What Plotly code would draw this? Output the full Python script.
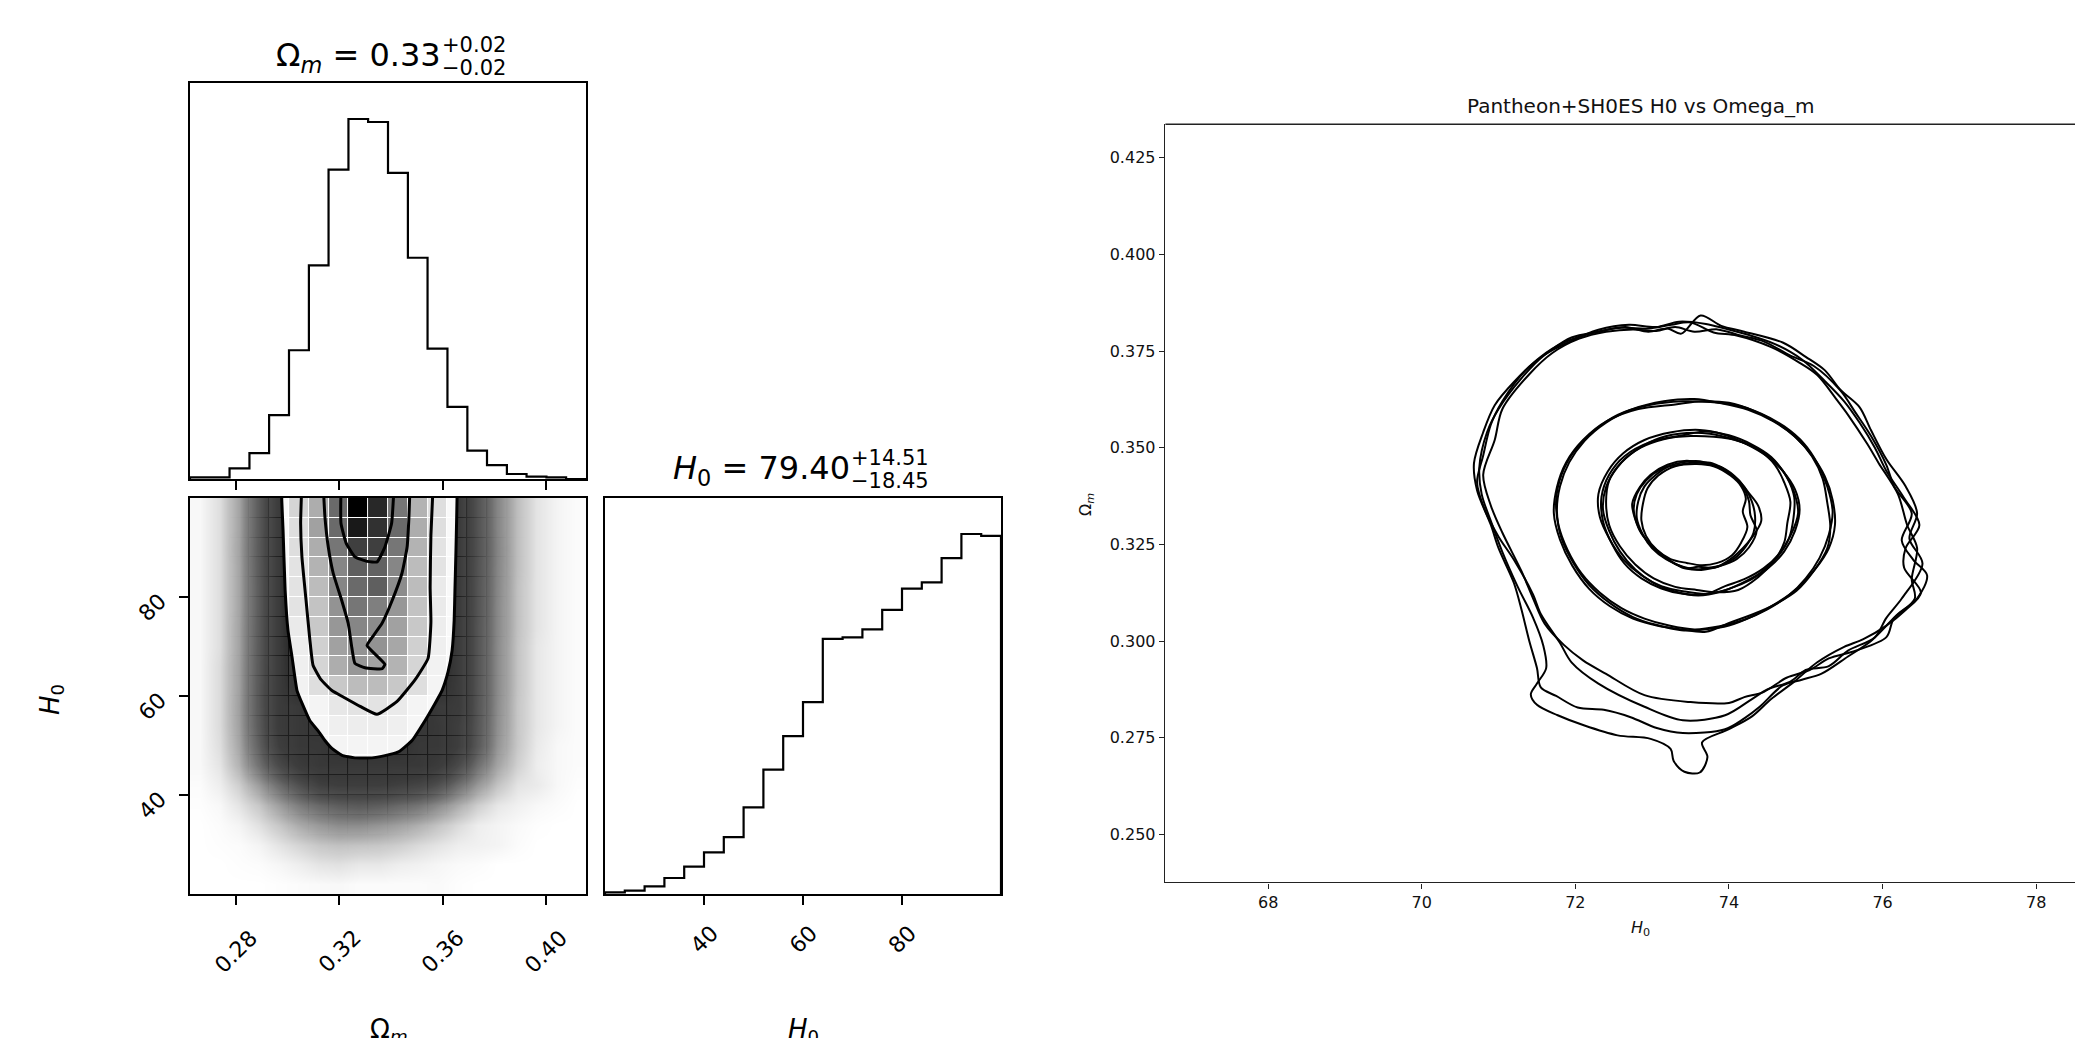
import math
import plotly.graph_objects as go

# ---------------- corner plot data ----------------
omega_bin_edges = [0.2623, 0.2700, 0.2776, 0.2853, 0.2929, 0.3006, 0.3083, 0.3159,
                   0.3236, 0.3312, 0.3389, 0.3466, 0.3542, 0.3619, 0.3696, 0.3772,
                   0.3849, 0.3925, 0.4002, 0.4078, 0.4155]
omega_counts = [5, 5, 32, 78, 192, 387, 642, 930, 1082, 1073,
                920, 665, 392, 217, 85, 42, 15, 7, 5, 0]
h0_bin_edges = [20, 24, 28, 32, 36, 40, 44, 48, 52, 56, 60,
                64, 68, 72, 76, 80, 84, 88, 92, 96, 100]
h0_counts = [4, 9, 20, 42, 72, 109, 149, 227, 326, 414,
             503, 669, 673, 694, 745, 801, 817, 881, 944, 939]

# 2D density (relative counts), rows from H0 = 96-100 (top) down to 20-24 (bottom)
density_rows_top_down = [
    [0.2, 1.0, 3.2, 8.5, 15, 39, 55, 74, 97, 89, 71, 53, 35, 15, 9.5, 4.8, 2.1, 0.8, 0.3, 0.1],
    [0.2, 1.0, 3.2, 8.5, 15, 35, 59, 74, 92, 87, 74, 55, 35, 15, 9.5, 4.8, 2.1, 0.8, 0.3, 0.1],
    [0.2, 1.0, 3.3, 8.6, 15, 35, 55, 71, 84, 84, 71, 53, 32, 15, 9.6, 4.9, 2.1, 0.8, 0.3, 0.1],
    [0.2, 1.0, 3.2, 8.5, 15, 32, 53, 67, 77, 76, 67, 50, 32, 15, 9.5, 4.8, 2.1, 0.8, 0.3, 0.1],
    [0.2, 1.0, 3.2, 8.4, 15, 32, 50, 67, 74, 77, 65, 50, 28, 15, 9.4, 4.7, 2.0, 0.8, 0.3, 0.1],
    [0.2, 1.0, 3.2, 8.4, 15, 32, 47, 63, 71, 69, 62, 47, 28, 15, 9.4, 4.6, 2.0, 0.8, 0.3, 0.1],
    [0.2, 1.0, 3.3, 8.5, 15, 28, 45, 62, 67, 65, 59, 45, 26, 15, 9.2, 4.6, 2.0, 0.8, 0.3, 0.1],
    [0.2, 1.0, 3.3, 8.6, 15, 26, 42, 59, 63, 63, 57, 42, 24, 15, 9.2, 4.5, 1.9, 0.7, 0.3, 0.1],
    [0.2, 1.1, 3.4, 8.7, 15, 24, 39, 55, 62, 59, 53, 39, 22, 15, 9.2, 4.5, 1.9, 0.7, 0.3, 0.1],
    [0.2, 1.1, 3.4, 8.8, 15, 22, 35, 45, 50, 50, 45, 35, 20, 15, 9.2, 4.5, 1.9, 0.7, 0.3, 0.1],
    [0.2, 1.1, 3.5, 8.8, 15, 17, 20, 30, 32, 32, 28, 20, 16, 15, 9.1, 4.4, 1.8, 0.7, 0.3, 0.1],
    [0.2, 1.1, 3.4, 8.6, 15, 17, 18, 24, 26, 26, 24, 18, 17, 14, 8.9, 4.3, 1.8, 0.7, 0.3, 0.1],
    [0.2, 1.0, 3.1, 7.8, 14, 17, 17, 20, 20, 20, 20, 17, 17, 14, 8.6, 4.0, 1.7, 0.6, 0.2, 0.1],
    [0.2, 0.8, 2.6, 6.3, 11, 15, 17, 17, 17, 17, 17, 17, 15, 11, 6.4, 3.2, 1.4, 0.5, 0.2, 0.1],
    [0.1, 0.5, 1.5, 3.6, 6.6, 9.8, 13, 14, 14, 14, 13, 12, 9.8, 6.5, 3.8, 1.9, 0.8, 0.6, 0.2, 0.05],
    [0.05, 0.2, 0.8, 1.8, 3.5, 5.4, 7.0, 8.0, 8.5, 8.0, 7.0, 6.0, 4.5, 2.9, 1.5, 0.7, 0.4, 0.2, 0.1, 0.0],
    [0.0, 0.1, 0.3, 0.9, 1.8, 2.9, 3.8, 4.4, 4.4, 4.0, 3.4, 2.7, 1.9, 1.1, 0.5, 0.3, 0.15, 0.05, 0.0, 0.0],
    [0.0, 0.05, 0.1, 0.3, 0.8, 1.3, 1.8, 2.0, 1.9, 1.8, 1.5, 1.1, 0.8, 0.5, 0.4, 0.3, 0.1, 0.0, 0.0, 0.0],
    [0.0, 0.0, 0.05, 0.1, 0.25, 0.5, 0.8, 0.9, 0.7, 0.7, 0.5, 0.4, 0.25, 0.15, 0.1, 0.0, 0.0, 0.0, 0.0, 0.0],
    [0.0, 0.0, 0.0, 0.0, 0.05, 0.1, 0.15, 0.2, 0.1, 0.1, 0.1, 0.1, 0.15, 0.05, 0.0, 0.0, 0.0, 0.0, 0.0, 0.0],
]

# contour lines (Omega_m, H0)
contour_865_omega = [0.2978, 0.2978, 0.2983, 0.2991, 0.3002, 0.3018, 0.3037, 0.3060, 0.3087, 0.3118,
                     0.3145, 0.3172, 0.3211, 0.3261, 0.3327, 0.3397, 0.3432, 0.3482, 0.3532, 0.3571,
                     0.3598, 0.3621, 0.3637, 0.3645, 0.3648, 0.3652, 0.3656, 0.3656]
contour_865_h0 = [102, 99.6, 93.5, 81.4, 73.3, 67.8, 61.1, 58.1, 55.0, 53.0,
                  51.0, 49.4, 48.0, 47.5, 47.5, 48.2, 48.8, 51.0, 55.0, 58.5,
                  61.1, 64.8, 69.2, 75.3, 81.4, 89.5, 99.6, 102]
contour_675_omega = [0.3055, 0.3051, 0.3056, 0.3072, 0.3087, 0.3099, 0.3130, 0.3172, 0.3219,
                     0.3281, 0.3346, 0.3424, 0.3494, 0.3544, 0.3555, 0.3552, 0.3555, 0.3563]
contour_675_h0 = [102, 94.9, 88.1, 79.3, 71.2, 66.2, 63.3, 61.1, 59.7,
                  57.9, 56.3, 58.9, 63.3, 67.6, 74.9, 82.0, 92.5, 102]
contour_393_omega = [0.3139, 0.3145, 0.3158, 0.3177, 0.3210, 0.3235, 0.3249, 0.3261, 0.3300, 0.3366,
                     0.3377, 0.3308, 0.3327, 0.3366, 0.3405, 0.3443, 0.3463, 0.3470, 0.3474]
contour_393_h0 = [102, 96.2, 90.1, 84.8, 79.3, 74.7, 69.8, 66.6, 65.7, 65.5,
                  66.4, 70.2, 71.8, 74.7, 79.3, 84.8, 90.1, 96.2, 102]
contour_118_omega = [0.3207, 0.3207, 0.3227, 0.3261, 0.3308, 0.3347, 0.3377, 0.3403, 0.3412]
contour_118_h0 = [102, 94.9, 90.9, 88.1, 87.2, 87.1, 90.1, 94.9, 102]

omega_ticks = [0.28, 0.32, 0.36, 0.40]
omega_tick_labels = ["0.28", "0.32", "0.36", "0.40"]
h0_ticks = [40, 60, 80]
h0_tick_labels = ["40", "60", "80"]

omega_title_main = "Ω<sub><i>m</i></sub> = 0.33"
omega_title_up, omega_title_down = "+0.02", "−0.02"
h0_title_main = "<i>H</i><sub>0</sub> = 79.40"
h0_title_up, h0_title_down = "+14.51", "−18.45"

# ---------------- Pantheon+SH0ES panel data: closed contour loops (H0, Omega_m) ----------------
ring1_loops = [
    [(73.40, 0.3462), (73.62, 0.3465), (73.85, 0.3450), (74.05, 0.3428), (74.20, 0.3398), (74.30, 0.3360),
     (74.34, 0.3322), (74.32, 0.3280), (74.22, 0.3245), (74.08, 0.3215), (73.90, 0.3196), (73.70, 0.3188),
     (73.52, 0.3185), (73.32, 0.3198), (73.12, 0.3222), (72.95, 0.3255), (72.82, 0.3295), (72.76, 0.3340),
     (72.80, 0.3380), (72.92, 0.3415), (73.12, 0.3445), (73.40, 0.3462)],
    [(73.45, 0.3466), (73.70, 0.3458), (73.92, 0.3448), (74.12, 0.3418), (74.25, 0.3385), (74.38, 0.3350),
     (74.42, 0.3310), (74.30, 0.3268), (74.18, 0.3240), (74.02, 0.3212), (73.82, 0.3190), (73.60, 0.3192),
     (73.42, 0.3188), (73.22, 0.3210), (73.02, 0.3242), (72.86, 0.3278), (72.78, 0.3315), (72.74, 0.3355),
     (72.84, 0.3398), (72.98, 0.3430), (73.20, 0.3456), (73.45, 0.3466)],
    [(73.58, 0.3458), (73.80, 0.3452), (74.02, 0.3428), (74.16, 0.3400), (74.22, 0.3368), (74.18, 0.3335),
     (74.24, 0.3295), (74.16, 0.3255), (74.04, 0.3222), (73.85, 0.3202), (73.65, 0.3196), (73.45, 0.3202),
     (73.24, 0.3212), (73.06, 0.3236), (72.92, 0.3272), (72.86, 0.3312), (72.88, 0.3355), (72.94, 0.3395),
     (73.08, 0.3428), (73.30, 0.3452), (73.58, 0.3458)],
    [(73.35, 0.3456), (73.55, 0.3462), (73.78, 0.3460), (74.00, 0.3436), (74.18, 0.3400), (74.26, 0.3362),
     (74.28, 0.3325), (74.36, 0.3285), (74.26, 0.3242), (74.10, 0.3212), (73.88, 0.3194), (73.64, 0.3184),
     (73.40, 0.3192), (73.18, 0.3212), (73.00, 0.3240), (72.88, 0.3275), (72.80, 0.3318), (72.82, 0.3362),
     (72.90, 0.3400), (73.05, 0.3430), (73.20, 0.3450), (73.35, 0.3456)],
]
ring2_loops = [
    [(73.45, 0.3538), (73.75, 0.3536), (74.05, 0.3522), (74.35, 0.3500), (74.58, 0.3468), (74.75, 0.3425),
     (74.85, 0.3372), (74.84, 0.3318), (74.78, 0.3265), (74.62, 0.3215), (74.40, 0.3175), (74.15, 0.3148),
     (73.90, 0.3128), (73.60, 0.3118), (73.30, 0.3128), (73.02, 0.3150), (72.78, 0.3185), (72.58, 0.3232),
     (72.44, 0.3285), (72.36, 0.3340), (72.40, 0.3398), (72.55, 0.3450), (72.78, 0.3492), (73.10, 0.3525),
     (73.45, 0.3538)],
    [(73.62, 0.3546), (73.92, 0.3535), (74.22, 0.3510), (74.48, 0.3480), (74.70, 0.3440), (74.86, 0.3392),
     (74.92, 0.3340), (74.86, 0.3285), (74.72, 0.3232), (74.52, 0.3190), (74.28, 0.3158), (74.00, 0.3135),
     (73.72, 0.3122), (73.42, 0.3128), (73.12, 0.3142), (72.86, 0.3170), (72.62, 0.3212), (72.45, 0.3262),
     (72.32, 0.3320), (72.30, 0.3380), (72.42, 0.3438), (72.62, 0.3485), (72.90, 0.3520), (73.25, 0.3540),
     (73.62, 0.3546)],
    [(73.50, 0.3530), (73.80, 0.3528), (74.12, 0.3518), (74.40, 0.3492), (74.60, 0.3455), (74.72, 0.3410),
     (74.80, 0.3360), (74.76, 0.3305), (74.72, 0.3255), (74.58, 0.3205), (74.38, 0.3165), (74.12, 0.3132),
     (73.85, 0.3126), (73.58, 0.3132), (73.30, 0.3140), (73.02, 0.3162), (72.78, 0.3198), (72.58, 0.3245),
     (72.44, 0.3300), (72.40, 0.3360), (72.44, 0.3415), (72.60, 0.3462), (72.85, 0.3500), (73.15, 0.3522),
     (73.50, 0.3530)],
    [(73.40, 0.3532), (73.68, 0.3542), (74.00, 0.3532), (74.30, 0.3508), (74.55, 0.3476), (74.72, 0.3435),
     (74.84, 0.3390), (74.90, 0.3330), (74.80, 0.3272), (74.65, 0.3225), (74.45, 0.3188), (74.20, 0.3160),
     (73.95, 0.3142), (73.68, 0.3120), (73.40, 0.3122), (73.12, 0.3136), (72.86, 0.3162), (72.64, 0.3200),
     (72.48, 0.3250), (72.36, 0.3310), (72.34, 0.3372), (72.44, 0.3430), (72.64, 0.3478), (72.98, 0.3515),
     (73.40, 0.3532)],
]
ring3_loops = [
    [(73.40, 0.3620), (73.75, 0.3618), (74.10, 0.3610), (74.42, 0.3588), (74.72, 0.3555), (74.98, 0.3510),
     (75.15, 0.3460), (75.28, 0.3400), (75.35, 0.3335), (75.30, 0.3275), (75.18, 0.3215), (75.00, 0.3162),
     (74.78, 0.3118), (74.50, 0.3082), (74.20, 0.3055), (73.88, 0.3038), (73.55, 0.3030), (73.22, 0.3040),
     (72.90, 0.3058), (72.60, 0.3085), (72.32, 0.3125), (72.08, 0.3175), (71.90, 0.3235), (71.78, 0.3300),
     (71.75, 0.3365), (71.82, 0.3430), (71.98, 0.3490), (72.22, 0.3540), (72.55, 0.3585), (72.95, 0.3610),
     (73.40, 0.3620)],
    [(73.55, 0.3626), (73.90, 0.3615), (74.25, 0.3598), (74.58, 0.3568), (74.85, 0.3530), (75.08, 0.3480),
     (75.25, 0.3425), (75.35, 0.3365), (75.38, 0.3300), (75.30, 0.3240), (75.12, 0.3185), (74.90, 0.3138),
     (74.62, 0.3098), (74.32, 0.3065), (74.00, 0.3040), (73.68, 0.3030), (73.38, 0.3028), (73.05, 0.3042),
     (72.75, 0.3062), (72.45, 0.3098), (72.18, 0.3145), (71.98, 0.3200), (71.82, 0.3265), (71.76, 0.3335),
     (71.80, 0.3400), (71.92, 0.3462), (72.12, 0.3518), (72.40, 0.3565), (72.75, 0.3600), (73.15, 0.3620),
     (73.55, 0.3626)],
    [(73.30, 0.3612), (73.65, 0.3620), (74.00, 0.3616), (74.32, 0.3596), (74.62, 0.3565), (74.88, 0.3525),
     (75.08, 0.3478), (75.22, 0.3420), (75.28, 0.3358), (75.32, 0.3295), (75.28, 0.3240), (75.10, 0.3180),
     (74.88, 0.3130), (74.60, 0.3095), (74.32, 0.3070), (74.02, 0.3048), (73.70, 0.3024), (73.38, 0.3030),
     (73.06, 0.3040), (72.75, 0.3058), (72.45, 0.3090), (72.18, 0.3135), (71.96, 0.3195), (71.80, 0.3262),
     (71.72, 0.3330), (71.76, 0.3398), (71.88, 0.3462), (72.10, 0.3520), (72.42, 0.3570), (72.82, 0.3600),
     (73.30, 0.3612)],
]
ring4_loops = [
    [(73.63, 0.3842), (73.90, 0.3815), (74.20, 0.3800), (74.70, 0.3772), (75.00, 0.3735), (75.25, 0.3700),
     (75.45, 0.3650), (75.70, 0.3605), (75.85, 0.3545), (76.05, 0.3470), (76.30, 0.3400), (76.45, 0.3330),
     (76.35, 0.3265), (76.52, 0.3200), (76.25, 0.3110), (76.05, 0.3060), (75.90, 0.3010), (75.55, 0.2975),
     (75.30, 0.2935), (75.00, 0.2925), (74.80, 0.2895), (74.50, 0.2875), (74.30, 0.2850), (73.95, 0.2808),
     (73.40, 0.2795), (72.90, 0.2830), (72.30, 0.2890), (71.95, 0.2945), (71.80, 0.2995), (71.55, 0.3070),
     (71.45, 0.3120), (71.20, 0.3210), (71.00, 0.3270), (70.82, 0.3340), (70.72, 0.3410), (70.80, 0.3480),
     (70.90, 0.3560), (71.05, 0.3620), (71.35, 0.3700), (71.65, 0.3748), (71.95, 0.3785), (72.30, 0.3800),
     (72.65, 0.3812), (72.95, 0.3800), (73.20, 0.3808), (73.38, 0.3795), (73.63, 0.3842)],
    [(73.30, 0.3812), (73.55, 0.3800), (73.85, 0.3806), (74.15, 0.3790), (74.45, 0.3775), (74.80, 0.3738),
     (75.10, 0.3712), (75.45, 0.3648), (75.65, 0.3590), (75.85, 0.3530), (76.05, 0.3455), (76.15, 0.3400),
     (76.38, 0.3330), (76.25, 0.3260), (76.40, 0.3210), (76.58, 0.3170), (76.45, 0.3110), (76.15, 0.3060),
     (76.05, 0.3010), (75.65, 0.2975), (75.30, 0.2955), (75.05, 0.2925), (74.75, 0.2905), (74.45, 0.2868),
     (74.20, 0.2855), (74.00, 0.2840), (73.50, 0.2842), (72.90, 0.2860), (72.40, 0.2915), (72.10, 0.2950),
     (71.85, 0.2990), (71.60, 0.3045), (71.45, 0.3110), (71.30, 0.3180), (71.05, 0.3280), (70.90, 0.3350),
     (70.80, 0.3430), (70.95, 0.3520), (71.05, 0.3600), (71.40, 0.3690), (71.70, 0.3745), (72.05, 0.3782),
     (72.40, 0.3800), (72.75, 0.3806), (73.05, 0.3802), (73.30, 0.3812)],
    [(73.50, 0.3824), (73.80, 0.3798), (74.10, 0.3790), (74.55, 0.3760), (74.90, 0.3722), (75.15, 0.3688),
     (75.40, 0.3625), (75.55, 0.3585), (75.80, 0.3510), (75.95, 0.3460), (76.20, 0.3380), (76.32, 0.3300),
     (76.45, 0.3240), (76.38, 0.3160), (76.42, 0.3110), (76.15, 0.3060), (75.85, 0.3000), (75.55, 0.2960),
     (75.20, 0.2915), (74.95, 0.2900), (74.70, 0.2885), (74.40, 0.2830), (74.20, 0.2800), (73.95, 0.2772),
     (73.40, 0.2762), (73.06, 0.2775), (72.72, 0.2803), (72.37, 0.2822), (72.03, 0.2828), (71.75, 0.2858),
     (71.55, 0.2880), (71.50, 0.2930), (71.40, 0.3000), (71.30, 0.3080), (71.20, 0.3150), (71.00, 0.3240),
     (70.90, 0.3300), (70.72, 0.3390), (70.68, 0.3460), (70.80, 0.3540), (70.95, 0.3610), (71.20, 0.3670),
     (71.55, 0.3735), (71.85, 0.3772), (72.25, 0.3798), (72.60, 0.3810), (72.95, 0.3808), (73.25, 0.3818),
     (73.50, 0.3824)],
    [(73.70, 0.3820), (73.95, 0.3808), (74.25, 0.3792), (74.60, 0.3768), (74.95, 0.3728), (75.25, 0.3672),
     (75.50, 0.3620), (75.70, 0.3565), (75.90, 0.3500), (76.05, 0.3440), (76.28, 0.3370), (76.48, 0.3300),
     (76.30, 0.3240), (76.28, 0.3190), (76.50, 0.3125), (76.30, 0.3080), (76.05, 0.3040), (75.75, 0.3005),
     (75.50, 0.2985), (75.15, 0.2945), (74.85, 0.2895), (74.55, 0.2850), (74.30, 0.2805), (74.00, 0.2772),
     (73.65, 0.2738), (73.72, 0.2700), (73.62, 0.2660), (73.42, 0.2662), (73.28, 0.2690), (73.24, 0.2721),
     (72.98, 0.2747), (72.55, 0.2756), (72.11, 0.2782), (71.77, 0.2808), (71.50, 0.2835), (71.42, 0.2862),
     (71.50, 0.2890), (71.62, 0.2930), (71.58, 0.2990), (71.45, 0.3060), (71.25, 0.3140), (71.05, 0.3230),
     (70.90, 0.3310), (70.78, 0.3380), (70.75, 0.3450), (70.85, 0.3540), (71.00, 0.3600), (71.30, 0.3680),
     (71.60, 0.3740), (71.90, 0.3772), (72.30, 0.3805), (72.70, 0.3818), (73.05, 0.3812), (73.35, 0.3826),
     (73.70, 0.3820)],
]
pantheon_xticks = [68, 70, 72, 74, 76, 78]
pantheon_xtick_labels = ["68", "70", "72", "74", "76", "78"]
pantheon_yticks = [0.250, 0.275, 0.300, 0.325, 0.350, 0.375, 0.400, 0.425]
pantheon_ytick_labels = ["0.250", "0.275", "0.300", "0.325", "0.350", "0.375", "0.400", "0.425"]
pantheon_title = "Pantheon+SH0ES H0 vs Omega_m"

# ---------------- layout helpers (page pixels -> paper) ----------------
OFF = 8            # default body margin of the page
W, H = 2075, 1030
FONT = "DejaVu Sans"


def px(X):
    return (X - OFF) / W


def py(Y):
    return 1 - (Y - OFF) / H


def step_xy(edges, counts):
    xs = [edges[0]] + list(edges[:-1]) + [edges[-1], edges[-1]]
    ys = [0] + list(counts) + [counts[-1], 0]
    return xs, ys


omega_centers = [(a + b) / 2 for a, b in zip(omega_bin_edges[:-1], omega_bin_edges[1:])]
h0_centers = [(a + b) / 2 for a, b in zip(h0_bin_edges[:-1], h0_bin_edges[1:])]
density_bottom_up = density_rows_top_down[::-1]
dmax = max(max(r) for r in density_rows_top_down)

fig = go.Figure()

# --- P1: Omega_m histogram
xs, ys = step_xy(omega_bin_edges, omega_counts)
fig.add_trace(go.Scatter(x=xs, y=ys, mode="lines", line=dict(color="black", width=2.2, shape="hv"),
                         xaxis="x", yaxis="y", hoverinfo="skip"))

# --- P3: H0 histogram
xs, ys = step_xy(h0_bin_edges, h0_counts)
fig.add_trace(go.Scatter(x=xs, y=ys, mode="lines", line=dict(color="black", width=2.2, shape="hv"),
                         xaxis="x3", yaxis="y3", hoverinfo="skip"))

# --- P2: scattered samples (as a smoothed point-density cloud)
HALO_MAX = 30.0
halo_stops = [0, 0.3, 0.7, 1.2, 2, 3, 4.5, 6, 8, 10.5, 14, 19, 25, 30]
halo_scale = []
for v in halo_stops:
    g = int(round(255 * math.exp(-v / 7.0)))
    halo_scale.append([v / HALO_MAX, f"rgb({g},{g},{g})"])
fig.add_trace(go.Heatmap(x=omega_centers, y=h0_centers, z=density_bottom_up, zmin=0, zmax=HALO_MAX,
                         colorscale=halo_scale, zsmooth="best", showscale=False,
                         xaxis="x2", yaxis="y2", hoverinfo="skip"))
# white mask inside outermost contour
fig.add_trace(go.Scatter(x=contour_865_omega + [contour_865_omega[0]],
                         y=contour_865_h0 + [contour_865_h0[0]],
                         mode="lines", fill="toself", fillcolor="white",
                         line=dict(width=0, color="white", shape="spline", smoothing=0.4),
                         xaxis="x2", yaxis="y2", hoverinfo="skip"))
# density cells (overlay axes so they sit above the mask)
fig.add_trace(go.Heatmap(x=omega_centers, y=h0_centers, z=density_bottom_up, zmin=0, zmax=dmax,
                         colorscale=[[0, "rgba(255,255,255,0)"], [1, "rgba(0,0,0,1)"]],
                         xgap=1, ygap=1, showscale=False, xaxis="x5", yaxis="y5", hoverinfo="skip"))
for cx, cy in [(contour_118_omega, contour_118_h0), (contour_393_omega, contour_393_h0),
               (contour_675_omega, contour_675_h0), (contour_865_omega, contour_865_h0)]:
    fig.add_trace(go.Scatter(x=cx, y=cy, mode="lines",
                             line=dict(color="black", width=3, shape="spline", smoothing=0.4),
                             xaxis="x5", yaxis="y5", hoverinfo="skip"))

# --- P4: Pantheon+SH0ES contours
for group in (ring1_loops, ring2_loops, ring3_loops, ring4_loops):
    for loop in group:
        fig.add_trace(go.Scatter(x=[p[0] for p in loop], y=[p[1] for p in loop], mode="lines",
                                 line=dict(color="black", width=2, shape="spline", smoothing=0.9),
                                 xaxis="x4", yaxis="y4", hoverinfo="skip"))

corner_axis = dict(showline=True, linecolor="black", linewidth=2, mirror=True, showgrid=False,
                   zeroline=False, ticks="outside", ticklen=9, tickwidth=1.6, tickcolor="black",
                   showticklabels=False, automargin=False)
no_ticks = dict(corner_axis, ticks="")

P1x = [px(190), px(586)]
P1y = [py(479), py(83)]
P2x = [px(190), px(586)]
P2y = [py(894), py(498)]
P3x = [px(605), px(1001)]
P3y = [py(894), py(498)]
P4x = [px(1165.4), 1.0]
P4y = [py(882.3), py(124.3)]

pan_axis_font = dict(family=FONT, size=16, color="#111")

fig.update_layout(
    width=W, height=H, margin=dict(l=0, r=0, t=0, b=0, pad=0), autosize=False,
    template="none", showlegend=False, paper_bgcolor="white", plot_bgcolor="white",
    font=dict(family=FONT, color="black"),
    xaxis=dict(corner_axis, domain=P1x, anchor="y", range=[omega_bin_edges[0], omega_bin_edges[-1]],
               tickvals=omega_ticks),
    yaxis=dict(no_ticks, domain=P1y, anchor="x", range=[0, 1.1 * max(omega_counts)]),
    xaxis2=dict(corner_axis, domain=P2x, anchor="y2", range=[omega_bin_edges[0], omega_bin_edges[-1]],
                tickvals=omega_ticks),
    yaxis2=dict(corner_axis, domain=P2y, anchor="x2", range=[h0_bin_edges[0], h0_bin_edges[-1]],
                tickvals=h0_ticks),
    xaxis5=dict(overlaying="x2", anchor="y5", range=[omega_bin_edges[0], omega_bin_edges[-1]],
                visible=False, showgrid=False, zeroline=False),
    yaxis5=dict(overlaying="y2", anchor="x5", range=[h0_bin_edges[0], h0_bin_edges[-1]],
                visible=False, showgrid=False, zeroline=False),
    xaxis3=dict(corner_axis, domain=P3x, anchor="y3", range=[h0_bin_edges[0], h0_bin_edges[-1]],
                tickvals=h0_ticks),
    yaxis3=dict(no_ticks, domain=P3y, anchor="x3", range=[0, 1.1 * max(h0_counts)]),
    xaxis4=dict(domain=P4x, anchor="y4", range=[66.662, 78.610], showline=True, linecolor="#222",
                linewidth=1.4, mirror=False, showgrid=False, zeroline=False, ticks="outside",
                ticklen=5.5, tickwidth=1.3, tickcolor="#222", tickvals=pantheon_xticks,
                ticktext=pantheon_xtick_labels, tickfont=pan_axis_font, automargin=False),
    yaxis4=dict(domain=P4y, anchor="x4", range=[0.2376, 0.43364], showline=True, linecolor="#222",
                linewidth=1.4, mirror=False, showgrid=False, zeroline=False, ticks="outside",
                ticklen=5.5, tickwidth=1.3, tickcolor="#222", tickvals=pantheon_yticks,
                ticktext=pantheon_ytick_labels, tickfont=pan_axis_font, automargin=False),
    shapes=[dict(type="line", xref="x4 domain", yref="y4 domain", x0=0, x1=1, y0=1, y1=1,
                 line=dict(color="#222", width=1.4), layer="above")],
)

ann = []
TICK_FS = 22
# corner x tick labels (rotated 45 deg, centred under ticks)
for v, t in zip(omega_ticks, omega_tick_labels):
    ann.append(dict(x=v, y=py(951), xref="x2", yref="paper", text=t, showarrow=False, textangle=-45,
                    xanchor="center", yanchor="middle", font=dict(family=FONT, size=TICK_FS, color="black")))
for v, t in zip(h0_ticks, h0_tick_labels):
    ann.append(dict(x=v, y=py(939), xref="x3", yref="paper", text=t, showarrow=False, textangle=-45,
                    xanchor="center", yanchor="middle", font=dict(family=FONT, size=TICK_FS, color="black")))
    ann.append(dict(x=px(152), y=v, xref="paper", yref="y2", text=t, showarrow=False, textangle=-45,
                    xanchor="center", yanchor="middle", yshift=-10,
                    font=dict(family=FONT, size=TICK_FS, color="black")))
# corner axis labels
LAB_FS = 26
ann.append(dict(x=px(51), y=py(700), xref="paper", yref="paper", text="<i>H</i><sub>0</sub>", showarrow=False,
                textangle=-90, xanchor="center", yanchor="middle", font=dict(family=FONT, size=LAB_FS)))
ann.append(dict(x=px(389), y=py(1030), xref="paper", yref="paper", text="Ω<sub><i>m</i></sub>", showarrow=False,
                xanchor="center", yanchor="middle", font=dict(family=FONT, size=LAB_FS)))
ann.append(dict(x=px(803), y=py(1030), xref="paper", yref="paper", text="<i>H</i><sub>0</sub>", showarrow=False,
                xanchor="center", yanchor="middle", font=dict(family=FONT, size=LAB_FS)))
# corner titles
TT_FS, SS_FS = 32, 21
for main, up, down, xe, yc in [(omega_title_main, omega_title_up, omega_title_down, 443, 57),
                               (h0_title_main, h0_title_up, h0_title_down, 852, 470)]:
    ann.append(dict(x=px(xe), y=py(yc), xref="paper", yref="paper", text=main, showarrow=False,
                    xanchor="right", yanchor="middle", font=dict(family=FONT, size=TT_FS)))
    ann.append(dict(x=px(xe - 3), y=py(yc - 12), xref="paper", yref="paper", text=up, showarrow=False,
                    xanchor="left", yanchor="middle", font=dict(family=FONT, size=SS_FS)))
    ann.append(dict(x=px(xe - 3), y=py(yc + 11), xref="paper", yref="paper", text=down, showarrow=False,
                    xanchor="left", yanchor="middle", font=dict(family=FONT, size=SS_FS)))
# Pantheon panel title and labels
ann.append(dict(x=px(1640), y=py(106), xref="paper", yref="paper", text=pantheon_title, showarrow=False,
                xanchor="center", yanchor="middle", font=dict(family=FONT, size=20, color="#111")))
ann.append(dict(x=px(1640), y=py(928), xref="paper", yref="paper", text="<i>H</i><sub>0</sub>", showarrow=False,
                xanchor="center", yanchor="middle", font=dict(family=FONT, size=16, color="#111")))
ann.append(dict(x=px(1086), y=py(505), xref="paper", yref="paper", text="Ω<sub><i>m</i></sub>", showarrow=False,
                textangle=-90, xanchor="center", yanchor="middle", font=dict(family=FONT, size=16, color="#111")))
fig.update_layout(annotations=ann)

fig.write_html("out.html")
